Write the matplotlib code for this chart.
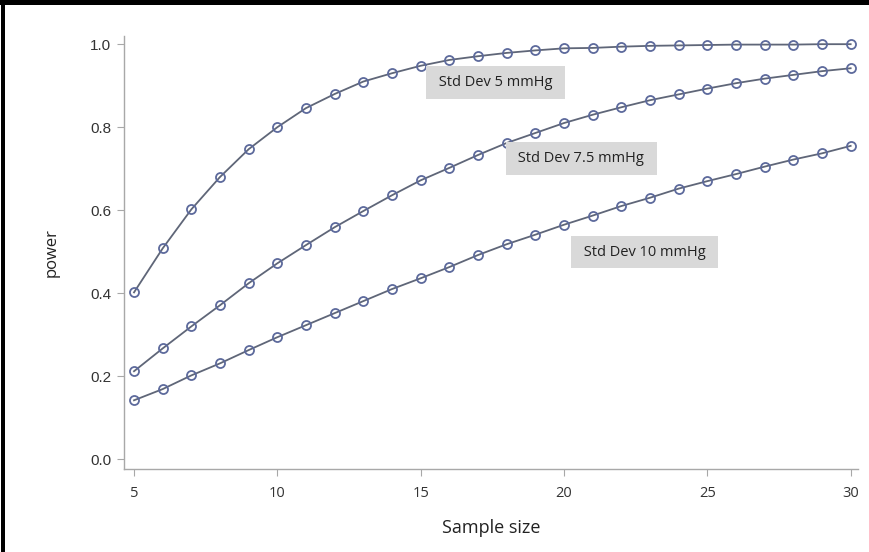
import matplotlib
matplotlib.use("Agg")
import matplotlib.pyplot as plt
from matplotlib.patches import Rectangle

n = list(range(5, 31))

power_sd5 = [0.402, 0.508, 0.602, 0.680, 0.747, 0.800, 0.846, 0.880, 0.910, 0.930,
             0.948, 0.962, 0.971, 0.979, 0.985, 0.990, 0.991, 0.994, 0.996, 0.997,
             0.998, 0.999, 0.999, 0.999, 1.000, 1.000]
power_sd75 = [0.212, 0.267, 0.320, 0.371, 0.424, 0.472, 0.516, 0.559, 0.598, 0.636,
              0.672, 0.702, 0.733, 0.762, 0.786, 0.810, 0.830, 0.848, 0.865, 0.879,
              0.893, 0.906, 0.917, 0.926, 0.935, 0.942]
power_sd10 = [0.142, 0.169, 0.202, 0.231, 0.263, 0.294, 0.323, 0.352, 0.381, 0.410,
              0.436, 0.463, 0.492, 0.518, 0.541, 0.565, 0.587, 0.610, 0.630, 0.652,
              0.670, 0.687, 0.705, 0.722, 0.737, 0.755]

labels = ["Std Dev 5 mmHg", "Std Dev 7.5 mmHg", "Std Dev 10 mmHg"]
label_pos = [(17.6, 0.908), (20.6, 0.725), (22.8, 0.499)]

line_col = "#5f6678"
mark_col = "#5d6a9c"

fig = plt.figure(figsize=(8.7, 5.52), dpi=100)
ax = fig.add_axes([0.1425, 0.150, 0.8435, 0.785])

for p in [power_sd5, power_sd75, power_sd10]:
    ax.plot(n, p, color=line_col, lw=1.3, marker="o", ms=6.5,
            mfc="none", mec=mark_col, mew=1.3)

for txt, (x, y) in zip(labels, label_pos):
    ax.text(x, y, " " + txt + " ", ha="center", va="center", fontsize=10.5,
            family="Open Sans", color="#222222",
            bbox=dict(boxstyle="square,pad=0.6", fc="#d9d9d9", ec="none"))

ax.set_xlim(4.65, 30.25)
ax.set_ylim(-0.024, 1.02)
ax.set_xticks([5, 10, 15, 20, 25, 30])
ax.set_yticks([0.0, 0.2, 0.4, 0.6, 0.8, 1.0])
ax.set_yticklabels(["0.0", "0.2", "0.4", "0.6", "0.8", "1.0"])

for s in ["top", "right"]:
    ax.spines[s].set_visible(False)
for s in ["left", "bottom"]:
    ax.spines[s].set_color("#a8a8a8")
    ax.spines[s].set_linewidth(1.0)

ax.tick_params(axis="y", colors="#a8a8a8", length=5, labelcolor="#333333",
               labelsize=11, pad=4)
ax.tick_params(axis="x", colors="#a8a8a8", length=5, labelcolor="#333333",
               labelsize=10.5, pad=7)
for t in ax.get_yticklabels():
    t.set_family("Liberation Sans")
for t in ax.get_xticklabels():
    t.set_family("Open Sans")

ax.set_xlabel("Sample size", fontsize=13, family="Open Sans", color="#222222",
              labelpad=13)
ax.set_ylabel("power", fontsize=12, family="Open Sans", color="#222222",
              labelpad=22)

# black frame strips along top and left edge
fig.patches.append(Rectangle((0, 1 - 5 / 552), 1, 5 / 552, transform=fig.transFigure,
                             fc="black", ec="none"))
fig.patches.append(Rectangle((1 / 870, 0), 4 / 870, 1, transform=fig.transFigure,
                             fc="black", ec="none"))

fig.savefig("out.png", dpi=100)
